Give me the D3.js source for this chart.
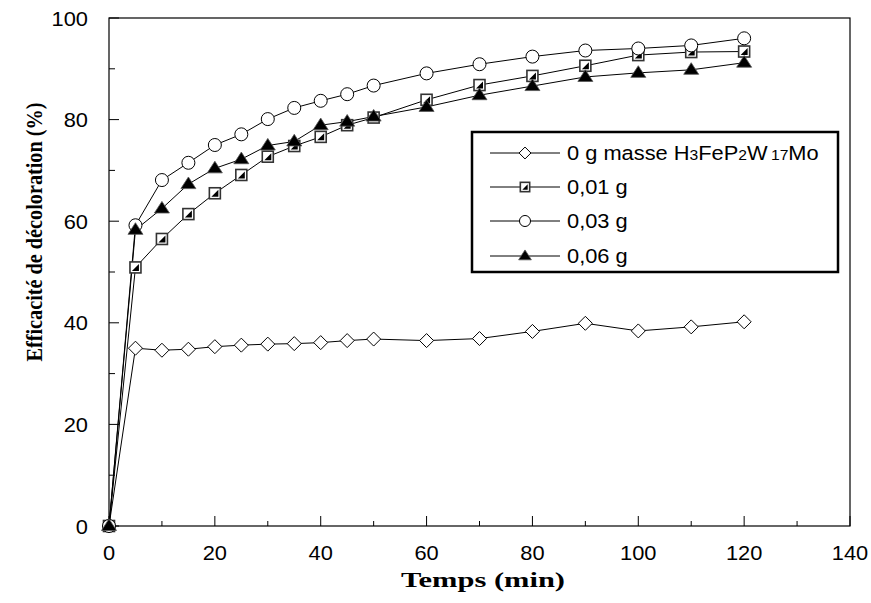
<!DOCTYPE html>
<html><head><meta charset="utf-8">
<script src="https://cdn.jsdelivr.net/npm/d3@7"></script>
<style>body{margin:0;background:#fff}</style>
</head><body>
<svg id="c" width="871" height="603"></svg>
<script>
const times = [0,5,10,15,20,25,30,35,40,45,50,60,70,80,90,100,110,120];
const s0g   = [0,35.0,34.6,34.8,35.3,35.6,35.8,35.9,36.1,36.5,36.8,36.5,36.9,38.3,39.9,38.4,39.2,40.2];
const s001g = [0,50.9,56.5,61.4,65.5,69.1,72.7,74.8,76.6,78.9,80.4,83.9,86.8,88.6,90.6,92.7,93.3,93.4];
const s003g = [0,59.2,68.1,71.5,75.0,77.1,80.1,82.3,83.7,85.0,86.7,89.1,90.9,92.4,93.6,94.0,94.6,96.0];
const s006g = [0,58.3,62.5,67.3,70.4,72.2,74.9,75.7,78.9,79.6,80.6,82.5,84.8,86.6,88.4,89.2,89.8,91.2];
const seriesNames = ["0 g masse ", "0,01 g", "0,03 g", "0,06 g"];
const xTicks = [0,20,40,60,80,100,120,140];
const yTicks = [0,20,40,60,80,100];

const svg = d3.select("#c");
const L=109, R=850, T=18, B=526;
const SX = 1.12;
const x = d3.scaleLinear().domain([0,140]).range([L,R]);
const y = d3.scaleLinear().domain([0,100]).range([B,T]);

svg.append("rect").attr("x",L).attr("y",T).attr("width",R-L).attr("height",B-T)
  .attr("fill","none").attr("stroke","#000").attr("stroke-width",1.2);

const xMinor = d3.range(10,140,20);
svg.append("g").selectAll("line").data(xTicks).join("line")
  .attr("x1",d=>x(d)).attr("x2",d=>x(d)).attr("y1",B).attr("y2",B-10).attr("stroke","#000");
svg.append("g").selectAll("line").data(xMinor).join("line")
  .attr("x1",d=>x(d)).attr("x2",d=>x(d)).attr("y1",B).attr("y2",B-5).attr("stroke","#000");
svg.append("g").selectAll("text").data(xTicks).join("text")
  .attr("transform",d=>`translate(${x(d)},560) scale(${SX},1)`).attr("text-anchor","middle")
  .attr("font-family","Liberation Sans, Arial").attr("font-size",19.5).text(d=>d);

const yMinor = d3.range(10,100,20);
svg.append("g").selectAll("line").data(yTicks).join("line")
  .attr("x1",L).attr("x2",L+10).attr("y1",d=>y(d)).attr("y2",d=>y(d)).attr("stroke","#000");
svg.append("g").selectAll("line").data(yMinor).join("line")
  .attr("x1",L).attr("x2",L+6).attr("y1",d=>y(d)).attr("y2",d=>y(d)).attr("stroke","#000");
svg.append("g").selectAll("text").data(yTicks).join("text")
  .attr("transform",d=>`translate(88,${y(d)+7.5}) scale(${SX},1)`).attr("text-anchor","end")
  .attr("font-family","Liberation Sans, Arial").attr("font-size",19.5).text(d=>d);

svg.append("text").attr("x",483).attr("y",587).attr("text-anchor","middle")
  .attr("font-family","Liberation Serif, Times New Roman").attr("font-weight","bold").attr("font-size",21)
  .attr("textLength",164).attr("lengthAdjust","spacingAndGlyphs")
  .text("Temps (min)");
svg.append("text").attr("transform","translate(42,232) rotate(-90)").attr("text-anchor","middle")
  .attr("font-family","Liberation Serif, Times New Roman").attr("font-weight","bold").attr("font-size",23)
  .attr("textLength",259).attr("lengthAdjust","spacingAndGlyphs")
  .text("Efficacité de décoloration (%)");

function marker(g, type, cx, cy, scale){
  scale = scale||1;
  if(type==="diamond"){
    const r=7*scale;
    g.append("path").attr("d",`M${cx},${cy-r}L${cx+r},${cy}L${cx},${cy+r}L${cx-r},${cy}Z`)
      .attr("fill","#fff").attr("stroke","#000").attr("stroke-width",1);
  } else if(type==="square"){
    const h=5.5*scale;
    g.append("rect").attr("x",cx-h).attr("y",cy-h).attr("width",2*h).attr("height",2*h)
      .attr("fill","#fff").attr("stroke","#333").attr("stroke-width",1.6);
    const k=h-2;
    g.append("path").attr("d",`M${cx+k},${cy-k}L${cx+k},${cy+k}L${cx-k},${cy+k}Z`).attr("fill","#000");
  } else if(type==="circle"){
    g.append("circle").attr("cx",cx).attr("cy",cy).attr("r",6.5*scale)
      .attr("fill","#fff").attr("stroke","#000").attr("stroke-width",1);
  } else if(type==="triangle"){
    const r=7.5*scale;
    g.append("path").attr("d",`M${cx},${cy-r*0.95}L${cx+r},${cy+r*0.6}L${cx-r},${cy+r*0.6}Z`)
      .attr("fill","#000").attr("stroke","#555").attr("stroke-width",0.8);
  }
}

const series = [
  {vals:s0g, type:"diamond"},
  {vals:s001g, type:"square"},
  {vals:s003g, type:"circle"},
  {vals:s006g, type:"triangle"}
];
const line = d3.line().x(d=>x(d[0])).y(d=>y(d[1]));
series.forEach(s=>{
  const pts = times.map((t,i)=>[t,s.vals[i]]);
  svg.append("path").attr("d",line(pts)).attr("fill","none").attr("stroke","#000").attr("stroke-width",1);
});
series.forEach(s=>{
  const g = svg.append("g");
  times.forEach((t,i)=>marker(g,s.type,x(t),y(s.vals[i])));
});

const lg = svg.append("g");
lg.append("rect").attr("x",472).attr("y",132).attr("width",366).attr("height",140)
  .attr("fill","#fff").attr("stroke","#000").attr("stroke-width",2.5);
const rowsY=[153,187,221,256];
series.forEach((s,i)=>{
  const yy=rowsY[i];
  lg.append("line").attr("x1",490).attr("x2",560).attr("y1",yy).attr("y2",yy).attr("stroke","#000");
  marker(lg,s.type,525,yy,0.85);
  const t = lg.append("text").attr("transform",`translate(567,${yy+7}) scale(${SX},1)`)
    .attr("font-family","Liberation Sans, Arial").attr("font-size",19.5);
  if(i===0){
    t.append("tspan").text(seriesNames[0]+"H");
    t.append("tspan").attr("font-size",14).text("3");
    t.append("tspan").text("FeP");
    t.append("tspan").attr("font-size",14).text("2");
    t.append("tspan").text("W");
    t.append("tspan").attr("font-size",14).attr("dx",3).text("17");
    t.append("tspan").text("Mo");
  } else t.text(seriesNames[i]);
});
</script>
</body></html>
